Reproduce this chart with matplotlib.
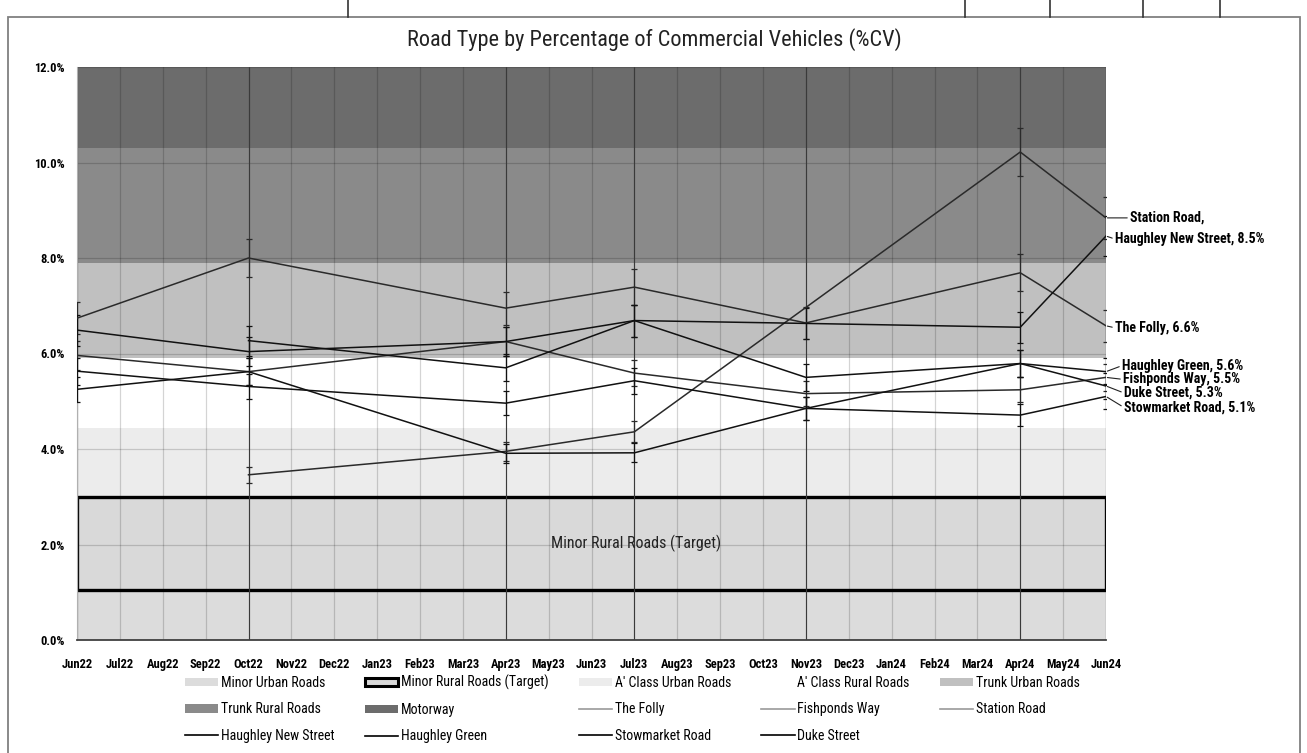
import matplotlib
matplotlib.use('Agg')
import matplotlib.pyplot as plt
import matplotlib.patches as mpatches
from matplotlib.lines import Line2D
from matplotlib import font_manager
import numpy as np

# pick a narrow face if one is installed
installed = {f.name for f in font_manager.fontManager.ttflist}
narrow = [n for n in ['Liberation Sans Narrow', 'Roboto Condensed', 'DejaVu Sans Condensed',
                      'Open Sans Condensed', 'Roboto'] if n in installed]
plt.rcParams['font.family'] = narrow[:1] + ['DejaVu Sans']
is_narrow = bool(narrow) and narrow[0] != 'Roboto'
k = 1.0 if is_narrow else 0.85

# month axis
months = ['Jun22', 'Jul22', 'Aug22', 'Sep22', 'Oct22', 'Nov22', 'Dec22', 'Jan23',
          'Feb23', 'Mar23', 'Apr23', 'May23', 'Jun23', 'Jul23', 'Aug23', 'Sep23',
          'Oct23', 'Nov23', 'Dec23', 'Jan24', 'Feb24', 'Mar24', 'Apr24', 'May24', 'Jun24']
survey_months = ['Jun22', 'Oct22', 'Apr23', 'Jul23', 'Nov23', 'Apr24', 'Jun24']

nan = np.nan
# %CV per site at each survey month
the_folly = [6.74, 8.00, 6.95, 7.39, 6.64, 7.69, 6.58]
fishponds_way = [5.96, 5.62, 6.25, 5.59, 5.16, 5.24, 5.50]
station_road = [nan, 3.46, 3.95, 4.36, nan, 10.22, 8.84]
haughley_new_street = [6.49, 6.04, 6.25, 6.69, 6.63, 6.55, 8.46]
haughley_green = [nan, 6.27, 5.70, 6.69, 5.50, 5.79, 5.62]
stowmarket_road = [5.63, 5.31, 4.96, 5.43, 4.85, 4.71, 5.10]
duke_street = [5.25, 5.62, 3.91, 3.92, 4.85, 5.79, 5.32]

# road type bands (%CV)
band_names = ['Minor Urban Roads', 'Minor Rural Roads (Target)', "A' Class Urban Roads",
              "A' Class Rural Roads", 'Trunk Urban Roads', 'Trunk Rural Roads', 'Motorway']
band_low = [0.0, 1.05, 3.0, 4.45, 5.9, 7.9, 10.3]
band_high = [3.0, 3.0, 4.45, 5.9, 7.9, 10.3, 12.0]
band_colors = ['#dcdcdc', '#d9d9d9', '#ececec', '#ffffff', '#c0c0c0', '#8a8a8a', '#6c6c6c']

err_frac = 0.05  # 5% error bars

series = [
    ('The Folly', the_folly, '#2a2a2a'),
    ('Fishponds Way', fishponds_way, '#2a2a2a'),
    ('Station Road', station_road, '#2a2a2a'),
    ('Haughley New Street', haughley_new_street, '#111111'),
    ('Haughley Green', haughley_green, '#111111'),
    ('Stowmarket Road', stowmarket_road, '#111111'),
    ('Duke Street', duke_street, '#111111'),
]
end_labels = {
    'Station Road': 'Station Road,',
}
# label offsets in pixels from line end
label_offsets = {
    'Station Road': (24, 0),
    'Haughley New Street': (9, -3),
    'The Folly': (9, -2),
    'Haughley Green': (16, 6),
    'Fishponds Way': (17, -2),
    'Duke Street': (18, -7),
    'Stowmarket Road': (18, -11),
}

fig = plt.figure(figsize=(13.07, 7.53), dpi=100)
ax = fig.add_axes([77 / 1307, 113 / 753, 1029 / 1307, 573 / 753])

# bands
for name, lo, hi, c in zip(band_names, band_low, band_high, band_colors):
    if name == 'Minor Rural Roads (Target)':
        continue
    ax.axhspan(lo, hi, color=c, zorder=0.5, lw=0)
i_t = band_names.index('Minor Rural Roads (Target)')
ax.add_patch(mpatches.Rectangle((0, band_low[i_t]), len(months) - 1,
                                band_high[i_t] - band_low[i_t],
                                facecolor=band_colors[i_t], edgecolor='black',
                                lw=2.4, zorder=0.6))
ax.text(13.05, (band_low[i_t] + band_high[i_t]) / 2, 'Minor Rural Roads (Target)',
        ha='center', va='center', fontsize=11.5 * k, color='#222222', zorder=3)

# survey month lines
x_survey = [months.index(m) for m in survey_months]
ax.vlines(x_survey, 0, 12, color='#3a3a3a', lw=0.8, zorder=1.6)

for name, vals, c in series:
    vals = np.array(vals, dtype=float)
    xs = np.array(x_survey)
    ok = ~np.isnan(vals)
    ax.errorbar(xs[ok], vals[ok], yerr=vals[ok] * err_frac, color=c, lw=1.1,
                elinewidth=0.9, capsize=2.5, capthick=0.9, zorder=3)
    lab = end_labels.get(name, f'{name}, {vals[-1]:.1f}%')
    dx, dy = label_offsets[name]
    ax.annotate(lab, xy=(xs[-1], vals[-1]), xytext=(dx, dy), textcoords='offset pixels',
                ha='left', va='center', fontsize=10 * k, fontweight='bold',
                annotation_clip=False,
                arrowprops=dict(arrowstyle='-', color='#222222', lw=0.8,
                                shrinkA=0, shrinkB=1, relpos=(0, 0.5)))

ax.set_xlim(0, len(months) - 1)
ax.set_ylim(0, 12)
ax.set_xticks(range(len(months)))
ax.set_xticklabels(months)
ax.set_yticks(np.arange(0, 12.1, 2))
ax.set_yticklabels([f'{v:.1f}%' for v in np.arange(0, 12.1, 2)])
ax.tick_params(length=0, labelsize=9 * k)
ax.tick_params(axis='x', pad=13)
ax.tick_params(axis='y', pad=9)
for t in ax.get_xticklabels() + ax.get_yticklabels():
    t.set_fontweight('bold')
ax.grid(True, color='black', alpha=0.17, lw=0.9)
ax.set_axisbelow('line')
for s in ['top', 'right']:
    ax.spines[s].set_visible(False)
ax.spines['left'].set_color('#b0b0b0')
ax.spines['bottom'].set_color('#404040')
ax.spines['bottom'].set_linewidth(1.3)

fig.text(0.501, 0.947, 'Road Type by Percentage of Commercial Vehicles (%CV)',
         ha='center', va='center', fontsize=16 * k, color='#222222')

# legend, laid out row by row like the original
h = {}
for name, c in zip(band_names, band_colors):
    if name == 'Minor Rural Roads (Target)':
        h[name] = mpatches.Patch(facecolor=c, edgecolor='black', lw=2.2)
    else:
        h[name] = mpatches.Patch(facecolor=c, edgecolor='none')
for name, vals, c in series:
    lc = '#9a9a9a' if c == '#2a2a2a' else 'black'
    h[name] = Line2D([], [], color=lc, lw=1.2)
order = ['Minor Urban Roads', 'Trunk Rural Roads', 'Haughley New Street',
         'Minor Rural Roads (Target)', 'Motorway', 'Haughley Green',
         "A' Class Urban Roads", 'The Folly', 'Stowmarket Road',
         "A' Class Rural Roads", 'Fishponds Way', 'Duke Street',
         'Trunk Urban Roads', 'Station Road']
fig.legend([h[n] for n in order], order, ncol=5, loc='upper left',
           bbox_to_anchor=(185 / 1307, 1 - 745 / 753, 895 / 1307, 70 / 753),
           mode='expand', frameon=False, fontsize=10 * k, handlelength=2.4,
           handleheight=0.6, handletextpad=0.2, labelspacing=0.9,
           borderaxespad=0, borderpad=0)

# outer chart frame
fig.add_artist(mpatches.Rectangle((8 / 1307, -0.01), 1292 / 1307, 1 - 17 / 753 + 0.01,
                                  transform=fig.transFigure, fill=False,
                                  edgecolor='#808080', lw=1.3))
for xp in [348, 965, 1050, 1143, 1220]:
    fig.add_artist(Line2D([xp / 1307, xp / 1307], [1 - 17 / 753, 1.0],
                          transform=fig.transFigure, color='#333333', lw=1.2))

fig.savefig('out.png', dpi=100)
